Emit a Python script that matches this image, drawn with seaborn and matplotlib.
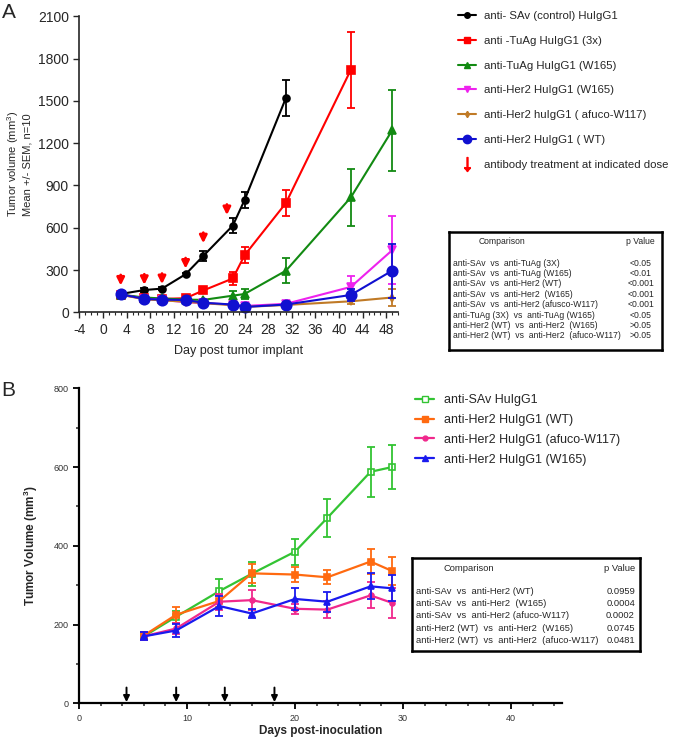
import numpy as np
import pandas as pd
import seaborn as sns
import matplotlib.pyplot as plt
from matplotlib.lines import Line2D
from matplotlib.ticker import MultipleLocator

# =============================================
# panel A : tumor volume, mean +/- SEM
# =============================================
days_a = [3, 7, 10, 14, 17, 22, 24, 31, 42, 49]
labels_a = ['anti- SAv (control) HuIgG1', 'anti -TuAg HuIgG1 (3x)', 'anti-TuAg HuIgG1 (W165)',
            'anti-Her2 HuIgG1 (W165)', 'anti-Her2 huIgG1 ( afuco-W117)', 'anti-Her2 HuIgG1 ( WT)']
control_a = [130, 158, 168, 270, 400, 615, 797, 1520]
control_a_sem = [10, 12, 10, 12, 35, 55, 55, 130]
tuag3x_a = [125, 100, 95, 100, 155, 240, 405, 775, 1720]
tuag3x_a_sem = [10, 8, 8, 10, 15, 45, 55, 95, 270]
tuagw165_a = [125, 105, 98, 90, 88, 118, 130, 295, 815, 1290]
tuagw165_a_sem = [10, 8, 8, 8, 8, 30, 35, 90, 200, 285]
her2w165_a = [125, 95, 88, 72, 65, 55, 45, 60, 180, 440]
her2w165_a_sem = [8, 8, 8, 10, 8, 8, 10, 10, 75, 240]
her2afuco_a = [125, 92, 85, 75, 65, 50, 38, 52, 78, 105]
her2afuco_a_sem = [8, 8, 8, 8, 8, 8, 8, 8, 22, 60]
her2wt_a = [128, 95, 90, 87, 68, 55, 38, 55, 123, 295]
her2wt_a_sem = [8, 8, 8, 8, 8, 8, 8, 8, 45, 190]
dose_days_a = [3, 7, 10, 14, 17, 21]
dose_tip_a = [190, 195, 200, 310, 490, 690]

rows_a = ['anti-SAv  vs  anti-TuAg (3X)', 'anti-SAv  vs  anti-TuAg (W165)',
          'anti-SAv  vs  anti-Her2 (WT)', 'anti-SAv  vs  anti-Her2  (W165)',
          'anti-SAv  vs  anti-Her2 (afusco-W117)', 'anti-TuAg (3X)  vs  anti-TuAg (W165)',
          'anti-Her2 (WT)  vs  anti-Her2  (W165)', 'anti-Her2 (WT)  vs  anti-Her2  (afuco-W117)']
pvals_a = ['<0.05', '<0.01', '<0.001', '<0.001', '<0.001', '<0.05', '>0.05', '>0.05']

# =============================================
# panel B
# =============================================
days_b = [6, 9, 13, 16, 20, 23, 27, 29]
labels_b = ['anti-SAv HuIgG1', 'anti-Her2 HuIgG1 (WT)', 'anti-Her2 HuIgG1 (afuco-W117)',
            'anti-Her2 HuIgG1 (W165)']
sav_b = [170, 220, 285, 329, 385, 471, 588, 600]
sav_b_sem = [10, 15, 30, 30, 33, 48, 63, 57]
wt_b = [172, 225, 260, 330, 327, 320, 360, 336]
wt_b_sem = [10, 20, 15, 25, 18, 18, 32, 35]
afuco_b = [170, 190, 258, 262, 240, 238, 274, 255]
afuco_b_sem = [10, 15, 20, 25, 12, 22, 33, 38]
w165_b = [170, 185, 247, 228, 265, 258, 297, 292]
w165_b_sem = [10, 17, 25, 12, 27, 25, 33, 33]
dose_days_b = [4.4, 9, 13.5, 18.1]

rows_b = ['anti-SAv  vs  anti-Her2 (WT)', 'anti-SAv  vs  anti-Her2  (W165)',
          'anti-SAv  vs  anti-Her2 (afuco-W117)', 'anti-Her2 (WT)  vs  anti-Her2  (W165)',
          'anti-Her2 (WT)  vs  anti-Her2  (afuco-W117)']
pvals_b = ['0.0959', '0.0004', '0.0002', '0.0745', '0.0481']

sns.set_style('ticks')
plt.rcParams['font.family'] = ['Liberation Sans', 'DejaVu Sans']
plt.rcParams['mathtext.default'] = 'regular'
plt.rcParams['axes.unicode_minus'] = False

fig = plt.figure(figsize=(6.83, 7.41), dpi=100)
W, H = 683, 741


def px_axes(x0, y0, x1, y1):
    # axes from pixel box (top-left origin)
    return fig.add_axes([x0 / W, 1 - y1 / H, (x1 - x0) / W, (y1 - y0) / H])


def series(ax, x, y, e, color, marker, ms, mfc=None, lw=1.5):
    sns.lineplot(x=x, y=y, ax=ax, color=color, marker=marker, markersize=ms,
                 markeredgecolor=color, markerfacecolor=mfc or color, lw=lw,
                 markeredgewidth=1.2, clip_on=False)
    ax.errorbar(x, y, yerr=e, fmt='none', ecolor=color, elinewidth=1.3, capsize=3,
                capthick=1.3, clip_on=False)


def table(ax, rows, pvals, fs, y0, dy, hy, cx, px, pha):
    ax.set_xticks([])
    ax.set_yticks([])
    for s in ax.spines.values():
        s.set_linewidth(1.8)
        s.set_color('black')
    ax.text(cx, hy, 'Comparison', fontsize=fs, ha='center', va='center', transform=ax.transAxes)
    ax.text(px, hy, 'p Value', fontsize=fs, ha=pha, va='center', transform=ax.transAxes)
    for i, (r, p) in enumerate(zip(rows, pvals)):
        ax.text(0.018, y0 - i * dy, r, fontsize=fs, ha='left', va='center', transform=ax.transAxes)
        ax.text(px, y0 - i * dy, p, fontsize=fs, ha=pha, va='center', transform=ax.transAxes)


# ---------------- A ----------------
ax = px_axes(79.4, 16.3, 398, 312.3)
cols_a = ['black', '#ff0000', '#128a12', '#ee22ee', '#c07a26', '#1010d0']
marks_a = ['o', 's', '^', 'v', 'd', 'o']
ms_a = [5, 5.5, 5.5, 5.5, 4, 7.5]
means_a = [control_a, tuag3x_a, tuagw165_a, her2w165_a, her2afuco_a, her2wt_a]
sems_a = [control_a_sem, tuag3x_a_sem, tuagw165_a_sem, her2w165_a_sem, her2afuco_a_sem, her2wt_a_sem]
for m, e, c, mk, ms in zip(means_a, sems_a, cols_a, marks_a, ms_a):
    series(ax, days_a[:len(m)], m, e, c, mk, ms)
for d, t in zip(dose_days_a, dose_tip_a):
    ax.annotate('', xy=(d, t), xytext=(d, t + 75),
                arrowprops=dict(arrowstyle='-|>', color='red', lw=2, mutation_scale=11,
                                shrinkA=0, shrinkB=0))
ax.set_xlim(-4, 50)
ax.set_ylim(0, 2100)
ax.set_xticks(range(-4, 49, 4))
ax.set_yticks(range(0, 2101, 300))
ax.xaxis.set_minor_locator(MultipleLocator(1))
ax.tick_params(axis='both', which='major', labelsize=10, length=4, width=1)
ax.tick_params(axis='x', which='minor', length=2, width=0.8)
ax.set_xlabel('Day post tumor implant', fontsize=9, labelpad=6)
ax.set_ylabel('Tumor volume (mm$^3$)\nMean +/- SEM, n=10', fontsize=8, labelpad=4)
for s in ['left', 'bottom']:
    ax.spines[s].set_linewidth(1.2)
sns.despine(ax=ax)

h_a = [Line2D([0], [0], color=c, marker=mk, markersize=ms * 0.8, lw=1.5, markeredgecolor=c)
       for c, mk, ms in zip(cols_a, marks_a, ms_a)]
h_a.append(Line2D([0], [0], ls='none', marker=r'$\downarrow$', color='red', markersize=10))
fig.legend(h_a, labels_a + ['antibody treatment at indicated dose'], loc='upper left',
           bbox_to_anchor=(458 / W, 1 - 11 / H), frameon=False, fontsize=8.2,
           handlelength=1.55, handletextpad=0.75, labelspacing=1.3, borderpad=0, borderaxespad=0)

tab_a = px_axes(449, 231.7, 662, 350)
table(tab_a, rows_a, pvals_a, 6.2, 0.735, 0.088, 0.92, 0.247, 0.90, 'center')

fig.text(2 / W, 1 - 12 / H, 'A', fontsize=15, va='center', ha='left')

# ---------------- B ----------------
ax = px_axes(79, 388.3, 561.7, 703.3)
cols_b = ['#33c433', '#ff6a10', '#f0288c', '#1a1aee']
marks_b = ['s', 's', 'o', '^']
mfc_b = ['white', None, None, None]
ms_b = [5, 5, 3.5, 4]
means_b = [sav_b, wt_b, afuco_b, w165_b]
sems_b = [sav_b_sem, wt_b_sem, afuco_b_sem, w165_b_sem]
for m, e, c, mk, ms, fc in zip(means_b, sems_b, cols_b, marks_b, ms_b, mfc_b):
    series(ax, days_b, m, e, c, mk, ms, mfc=fc, lw=1.6)
for d in dose_days_b:
    ax.annotate('', xy=(d, 3), xytext=(d, 40),
                arrowprops=dict(arrowstyle='-|>', color='black', lw=1.4, mutation_scale=9,
                                shrinkA=0, shrinkB=0))
ax.set_xlim(0, 44.7)
ax.set_ylim(0, 800)
ax.set_xticks([0, 10, 20, 30, 40])
ax.set_yticks(range(0, 801, 200))
ax.xaxis.set_minor_locator(MultipleLocator(2))
ax.yaxis.set_minor_locator(MultipleLocator(100))
ax.tick_params(axis='both', which='major', labelsize=6.5, length=4, width=1.3, colors='black',
               labelcolor='#333333')
ax.tick_params(axis='both', which='minor', length=2.5, width=1.1)
ax.set_xlabel('Days post-inoculation', fontsize=8.5, fontweight='bold', labelpad=2)
ax.set_ylabel('Tumor Volume (mm$^3$)', fontsize=8.5, fontweight='bold', labelpad=10)
for s in ['left', 'bottom']:
    ax.spines[s].set_linewidth(1.6)
    ax.spines[s].set_color('black')
sns.despine(ax=ax)

h_b = [Line2D([0], [0], color=c, marker=mk, markersize=ms, lw=1.6, markeredgecolor=c,
              markerfacecolor=fc or c) for c, mk, ms, fc in zip(cols_b, marks_b, ms_b, mfc_b)]
fig.legend(h_b, labels_b, loc='upper left', bbox_to_anchor=(415 / W, 1 - 394 / H),
           frameon=False, fontsize=9, handlelength=1.55, handletextpad=0.75,
           labelspacing=0.63, borderpad=0, borderaxespad=0)

tab_b = px_axes(411.7, 557.7, 640, 650.7)
table(tab_b, rows_b, pvals_b, 6.75, 0.634, 0.13, 0.886, 0.252, 0.978, 'right')

fig.text(1 / W, 1 - 391 / H, 'B', fontsize=15, va='center', ha='left')

fig.savefig('out.png', dpi=100)
